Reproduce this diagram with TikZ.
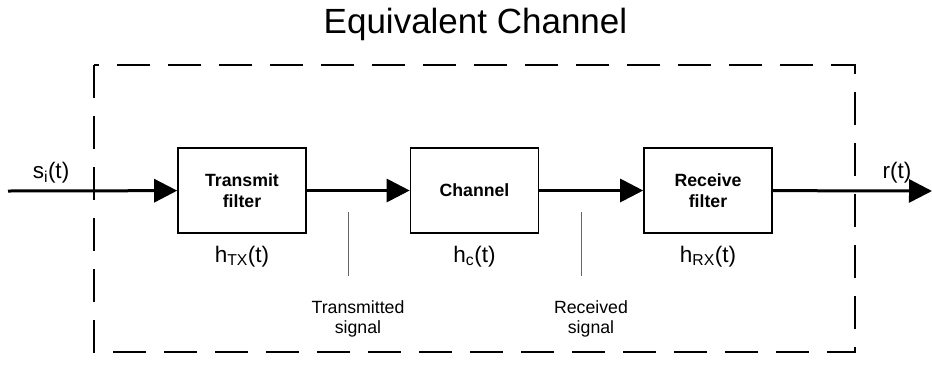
\documentclass[tikz,border=0pt]{standalone}
\usepackage{fontspec}
\setmainfont{Liberation Sans}
\usetikzlibrary{arrows.meta}

\begin{document}
\begin{tikzpicture}[x=1pt, y=-1pt,
    block/.style={draw, line width=1.6pt, minimum width=128pt, minimum height=85pt, align=center, inner sep=0pt, font=\fontsize{17.7}{20.7}\selectfont\bfseries},
    resp/.style={inner sep=0pt, anchor=base, font=\fontsize{22.5}{26}\selectfont},
    note/.style={inner sep=0pt, anchor=north, align=center, font=\fontsize{17.7}{20.5}\selectfont},
    sigline/.style={-{Triangle[length=23pt, width=23pt]}, line width=3pt},
    pointer/.style={gray!80!black, line width=0.9pt}]
    \useasboundingbox (0,0) rectangle (932,365);

    % title and frame
    \node (title) at (475.5,33) [anchor=base, inner sep=0pt, font=\fontsize{35}{40}\selectfont] {Equivalent Channel};
    \draw [dash pattern=on 33pt off 18pt, line width=2pt] (94,65) rectangle (855,352);

    % blocks
    \node (tx) at (242,190.5) [block] {Transmit\\filter};
    \node (ch) at (474.5,190.5) [block] {Channel};
    \node (rx) at (708,190.5) [block] {Receive\\filter};

    \node (htx) at (242,262) [resp] {h\textsubscript{TX}(t)};
    \node (hc) at (474.5,262) [resp] {h\textsubscript{c}(t)};
    \node (hrx) at (708,262) [resp] {h\textsubscript{RX}(t)};

    % signal path
    \coordinate (in) at (8,191);
    \coordinate (out) at (932,191);
    \node (si) at (51,178) [resp] {s\textsubscript{i}(t)};
    \node (rt) at (897,178) [resp] {r(t)};
    \draw [sigline] (in) -- (tx);
    \draw [sigline] (tx) -- (ch);
    \draw [sigline] (ch) -- (rx);
    \draw [sigline] (rx) -- (out);

    % signal notes
    \node (txsig) at (358,300) [note] {Transmitted\\signal};
    \node (rxsig) at (591,300) [note] {Received\\signal};
    \draw [pointer] (348,212) -- (348,276);
    \draw [pointer] (581,212) -- (581,276);
\end{tikzpicture}
\end{document}
